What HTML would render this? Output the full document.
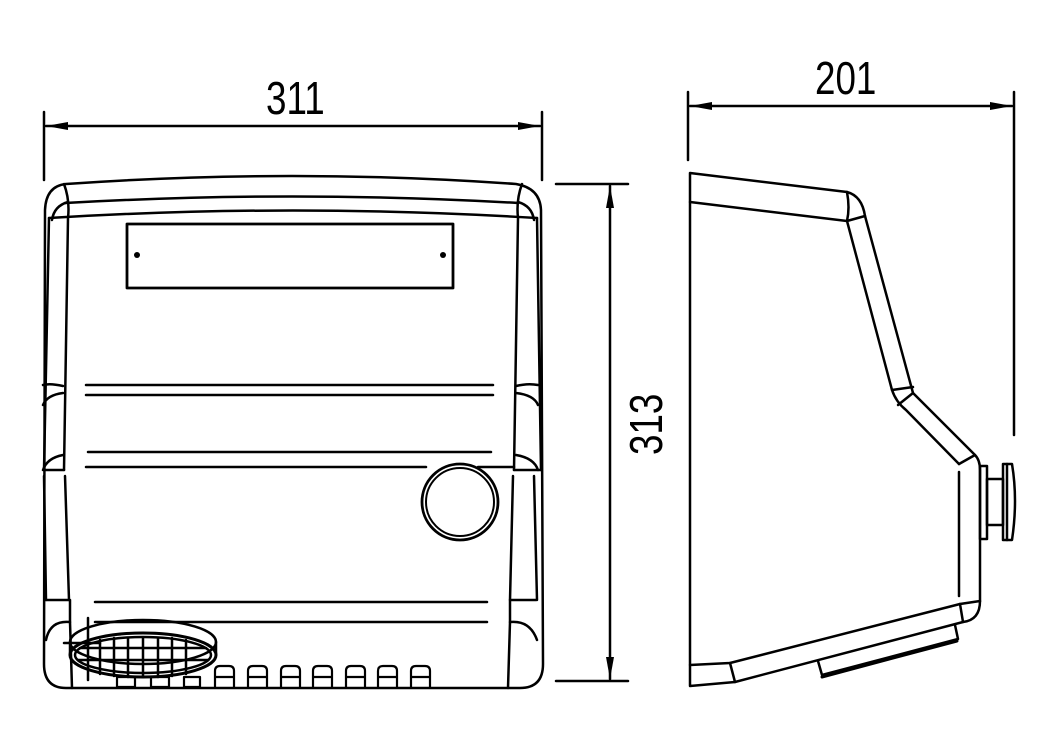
<!DOCTYPE html>
<html><head><meta charset="utf-8"><style>
html,body{margin:0;padding:0;background:#fff}
svg{display:block}
text{font-family:"Liberation Sans",sans-serif;font-size:46px;fill:#000}
</style></head><body>
<svg width="1062" height="754" viewBox="0 0 1062 754" xmlns="http://www.w3.org/2000/svg">
<defs>
<marker id="a" viewBox="0 0 22 10" refX="22" refY="5" markerWidth="22" markerHeight="10" orient="auto-start-reverse" markerUnits="userSpaceOnUse"><path d="M0,1 L22,5 L0,9 z" fill="#000"/></marker>
</defs>
<g fill="none" stroke="#000" stroke-width="2.5" stroke-linecap="round" stroke-linejoin="round">
<line x1="44" y1="112" x2="44" y2="180"/>
<line x1="542" y1="112" x2="542" y2="180"/>
<line x1="46" y1="126" x2="540" y2="126" marker-start="url(#a)" marker-end="url(#a)"/>
<line x1="688" y1="92" x2="688" y2="160"/>
<line x1="1014" y1="92" x2="1014" y2="435"/>
<line x1="690" y1="106" x2="1012" y2="106" marker-start="url(#a)" marker-end="url(#a)"/>
<line x1="556" y1="184" x2="628" y2="184"/>
<line x1="556" y1="681" x2="628" y2="681"/>
<line x1="610" y1="186" x2="610" y2="679" marker-start="url(#a)" marker-end="url(#a)"/>

<path d="M66,184 Q293,168 516,184 Q540,188 541,210 L543,664 Q543,688 520,688 L66,688 Q44,688 44,664 L45,210 Q46,186 66,184 Z"/>
<path d="M65,203 Q293,190 518,203"/>
<path d="M49,218 Q293,203 537,218"/>
<path d="M52,220 Q54,206 68,202"/>
<path d="M534,220 Q532,206 518,202"/>
<path d="M64,184 Q70,200 68,218 L64,470"/>
<path d="M522,184 Q516,200 518,218 L514,470"/>
<path d="M49,218 L44,470"/>
<path d="M537,218 L541,470"/>
<path d="M44,470 L64,470"/><path d="M514,470 L541,470"/>
<path d="M43,385 Q50,383 63,386"/><path d="M43,405 Q47,395 63,393"/>
<path d="M43,470 Q47,458 63,455"/>
<path d="M538,385 Q528,383 516,386"/><path d="M538,405 Q534,395 516,393"/>
<path d="M538,470 Q534,458 516,455"/>
<path d="M44,476 L46,600 M65,476 L69,600"/>
<path d="M513,476 L510,600 M534,476 L537,600"/>
<path d="M46,600 L70,600 L70,622 Q50,620 46,640"/>
<path d="M536,600 L510,600 L510,622 Q530,620 537,640"/>
<path d="M70,622 L72,688 M510,622 L508,688"/>
<rect x="127" y="224" width="326" height="64" stroke-width="2.8"/>
<line x1="86" y1="385" x2="493" y2="385"/>
<line x1="86" y1="395" x2="493" y2="395"/>
<line x1="88" y1="452" x2="491" y2="452"/>
<line x1="86" y1="467" x2="426" y2="467"/>
<line x1="478" y1="467" x2="514" y2="467"/>
<line x1="95" y1="602" x2="487" y2="602"/>
<line x1="95" y1="622" x2="487" y2="622"/>
<circle cx="460" cy="502" r="38" stroke-width="2.8"/>
<circle cx="460" cy="502" r="34" stroke-width="2"/>
<ellipse cx="143" cy="642" rx="73" ry="22"/>
<ellipse cx="143" cy="655" rx="73" ry="22" stroke-width="3"/>
<ellipse cx="143" cy="655" rx="68" ry="18"/>
<line x1="70" y1="642" x2="70" y2="655"/><line x1="216" y1="642" x2="216" y2="655"/>
<line x1="88" y1="618" x2="88" y2="680"/>
<line x1="64" y1="643" x2="100" y2="643"/>
<g stroke-width="2.5">
<line x1="100" y1="640" x2="100" y2="674"/><line x1="114" y1="638" x2="114" y2="676"/><line x1="128" y1="638" x2="128" y2="677"/><line x1="143" y1="638" x2="143" y2="677"/><line x1="158" y1="638" x2="158" y2="677"/><line x1="172" y1="638" x2="172" y2="676"/><line x1="186" y1="640" x2="186" y2="674"/>
<line x1="80" y1="648" x2="206" y2="648"/><line x1="78" y1="660" x2="208" y2="660"/>
</g>
<g stroke-width="2.2">
<rect x="117" y="677" width="18" height="10"/><rect x="151" y="677" width="18" height="10"/><rect x="184" y="677" width="16" height="10"/>
<path d="M215,687 V671 Q215,666 220,666 H229 Q234,666 234,671 V687 M215,677 H234"/>
<path d="M248,687 V671 Q248,666 253,666 H262 Q267,666 267,671 V687 M248,677 H267"/>
<path d="M281,687 V671 Q281,666 286,666 H295 Q300,666 300,671 V687 M281,677 H300"/>
<path d="M313,687 V671 Q313,666 318,666 H327 Q332,666 332,671 V687 M313,677 H332"/>
<path d="M346,687 V671 Q346,666 351,666 H360 Q365,666 365,671 V687 M346,677 H365"/>
<path d="M378,687 V671 Q378,666 383,666 H392 Q397,666 397,671 V687 M378,677 H397"/>
<path d="M411,687 V671 Q411,666 416,666 H425 Q430,666 430,671 V687 M411,677 H430"/>
</g>

<path d="M690,173 L847,192 Q862,196 865,216 L913,393 L975,455 Q980,460 980,470 L980,601 Q980,620 963,622 L735,682 L690,686 Z"/>
<path d="M690,202 L847,221 L892,390 Q896,402 906,410 L959,464"/>
<path d="M847,192 Q850,208 847,221 M847,221 L865,216"/>
<path d="M892,390 L913,387 M898,405 L913,393"/>
<path d="M959,464 L975,455 M959,472 L959,596"/>
<path d="M960,604 L980,601 M960,604 L963,622"/>
<path d="M960,604 L730,663 L690,665"/>
<path d="M730,663 L735,682"/>
<path d="M818,661 L822,675 L958,639 L955,625"/>
<line x1="822" y1="677" x2="957" y2="641" stroke-width="3"/>
<rect x="980" y="466" width="7" height="73"/>
<rect x="987" y="479" width="16" height="46"/>
<path d="M1003,464 H1012 Q1018,500 1012,540 H1003 Z"/>
<line x1="1007" y1="464" x2="1007" y2="540"/>
</g>
<circle cx="137" cy="255" r="3" fill="#000"/>
<circle cx="443" cy="255" r="3" fill="#000"/>
<text transform="translate(266,114) scale(0.8,1)">311</text>
<text transform="translate(815,94) scale(0.8,1)">201</text>
<text transform="translate(662,455) rotate(-90) scale(0.8,1)">313</text>
</svg>
</body></html>
